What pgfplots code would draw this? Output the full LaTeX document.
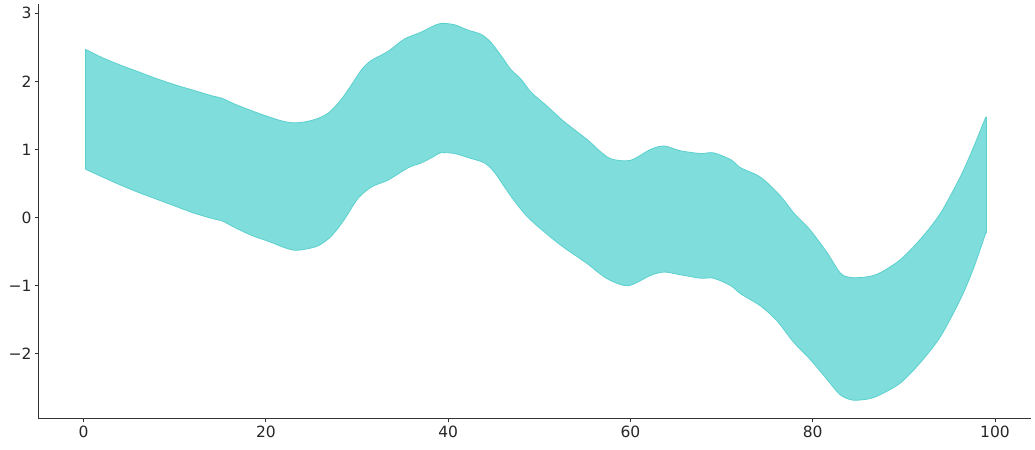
\documentclass[border=0pt]{standalone}
\usepackage{fontspec}
\setmainfont{DejaVu Sans}
\usepackage{pgfplots}
\pgfplotsset{compat=1.18}
\usepgfplotslibrary{fillbetween}
\definecolor{bandfill}{RGB}{127,222,219}
\definecolor{bandedge}{RGB}{90,208,206}
\definecolor{spine}{RGB}{51,51,51}
\definecolor{ticktext}{RGB}{38,38,38}

\begin{document}
\begin{tikzpicture}
\begin{axis}[scale only axis, width=992.5pt, height=415pt,
  xmin=-4.95, xmax=103.95, ymin=-2.957, ymax=3.135,
  axis x line*=bottom, axis y line*=left,
  axis line style={spine, line width=1pt},
  tick align=outside, major tick length=3.5pt,
  tick style={spine, line width=1pt},
  xtick={0,20,40,60,80,100},
  ytick={-2,-1,0,1,2,3},
  yticklabels={−2,−1,0,1,2,3},
  /pgf/number format/assume math mode=true,
  tick label style={font=\fontsize{15.5}{18}\selectfont, text=ticktext},
  clip=false]
  \addplot[name path=upper, draw=bandedge, line width=0.8pt, smooth, tension=0.5] coordinates {
    (0.2,2.47) (2,2.35) (4,2.24) (6,2.14) (8,2.04) (10,1.95) (12,1.87) (14,1.79)
    (15.2,1.75) (16.5,1.67) (18.4,1.57) (20.5,1.47) (22,1.41) (23.2,1.39)
    (24.5,1.41) (25.8,1.46) (27,1.55) (28.3,1.74) (29.5,1.97) (30.5,2.17)
    (31.5,2.30) (33.4,2.44) (35.2,2.62) (37,2.72) (38.2,2.80) (39.2,2.85)
    (40.7,2.83) (42.2,2.75) (43.6,2.69) (44.7,2.57) (46,2.34) (46.9,2.17)
    (48,2.03) (49.1,1.84) (50.9,1.63) (52.7,1.41) (55.3,1.14) (56.6,0.98)
    (57.9,0.86) (60,0.84) (62.2,1.00) (63.7,1.05) (65.5,0.98) (67.7,0.94)
    (69.1,0.95) (71,0.85) (72.1,0.73) (74.3,0.59) (76.5,0.31) (77.9,0.07)
    (79.7,-0.18) (81.6,-0.52) (83,-0.81) (84.1,-0.88) (86,-0.87) (87.4,-0.81)
    (89.6,-0.62) (91.8,-0.32) (94,0.06) (96.2,0.60) (97.6,1.02) (99,1.48)};
  \addplot[name path=lower, draw=bandedge, line width=0.8pt, smooth, tension=0.5] coordinates {
    (0.2,0.71) (2,0.60) (4,0.48) (6,0.37) (8,0.27) (10,0.17) (12,0.07) (14,-0.01)
    (15.2,-0.05) (16.5,-0.14) (18.4,-0.26) (20.5,-0.36) (22,-0.44) (23.2,-0.48)
    (24.5,-0.46) (25.8,-0.41) (27.2,-0.27) (28.6,-0.03) (30.1,0.28) (31.6,0.45)
    (33.4,0.55) (35.6,0.73) (37,0.80) (38.2,0.88) (39.2,0.95) (40.7,0.94)
    (42.2,0.88) (44,0.80) (45.1,0.66) (46.9,0.31) (48.7,0.01) (50.9,-0.25)
    (52.7,-0.44) (55.3,-0.68) (56.6,-0.82) (57.9,-0.93) (59.8,-1.0) (62.2,-0.85)
    (63.7,-0.80) (65.5,-0.84) (67.7,-0.89) (69.1,-0.89) (71,-1.0) (72.1,-1.12)
    (74.3,-1.30) (76.1,-1.52) (77.9,-1.83) (79.7,-2.08) (81.6,-2.38) (83,-2.60)
    (84.4,-2.68) (86.2,-2.66) (87.4,-2.60) (89.6,-2.43) (91.8,-2.13) (94,-1.75)
    (96.2,-1.20) (97.6,-0.76) (99,-0.22)};
  \addplot[fill=bandfill, draw=none] fill between[of=upper and lower];
  \addplot[bandedge, line width=0.8pt] coordinates {(0.2,2.47) (0.2,0.71)};
  \addplot[bandedge, line width=0.8pt] coordinates {(99,1.48) (99,-0.22)};
\end{axis}
\pgfresetboundingbox
\path ([shift={(-38.5pt,-31pt)}]current axis.south west) rectangle ([shift={(4pt,4pt)}]current axis.north east);
\end{tikzpicture}
\end{document}
